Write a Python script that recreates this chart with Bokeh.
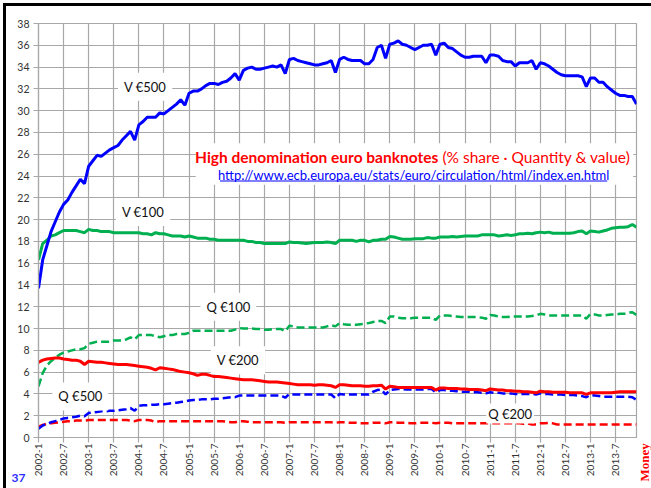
from math import pi
from bokeh.plotting import figure
from bokeh.models import Range1d, FixedTicker, Label, BoxAnnotation
from bokeh.embed import file_html
from bokeh.resources import INLINE

# ---- data (share in %, monthly 2002-1 .. 2013-12) ----
tick_labels = ["2002-1", "2002-7", "2003-1", "2003-7", "2004-1", "2004-7",
               "2005-1", "2005-7", "2006-1", "2006-7", "2007-1", "2007-7",
               "2008-1", "2008-7", "2009-1", "2009-7", "2010-1", "2010-7",
               "2011-1", "2011-7", "2012-1", "2012-7", "2013-1", "2013-7"]

v500 = [13.7, 16.3, 17.6, 18.9, 19.8, 20.7, 21.4, 21.8, 22.5, 23.1, 23.7, 23.3,
        24.9, 25.4, 25.9, 25.8, 26.1, 26.4, 26.6, 26.8, 27.3, 27.7, 28.1, 27.3,
        28.7, 29.0, 29.4, 29.4, 29.4, 29.8, 29.7, 30.0, 30.3, 30.6, 31.0, 30.5,
        31.6, 31.8, 31.8, 32.0, 32.3, 32.5, 32.5, 32.4, 32.6, 32.7, 33.0, 33.4,
        32.8, 33.7, 33.9, 34.0, 33.8, 33.8, 33.9, 34.0, 34.1, 34.0, 34.2, 33.4,
        34.7, 34.8, 34.6, 34.5, 34.4, 34.3, 34.2, 34.2, 34.3, 34.4, 34.6, 33.5,
        34.7, 34.9, 34.7, 34.6, 34.6, 34.6, 34.3, 34.3, 34.7, 35.8, 36.0, 34.8,
        36.1, 36.2, 36.4, 36.1, 36.0, 35.8, 35.6, 35.8, 36.0, 36.0, 36.1, 35.1,
        36.1, 36.2, 35.8, 35.7, 35.4, 35.1, 34.9, 34.9, 35.0, 35.0, 35.0, 34.4,
        35.1, 35.1, 35.0, 34.6, 34.5, 34.5, 34.1, 34.4, 34.4, 34.4, 34.6, 33.8,
        34.4, 34.3, 34.1, 33.8, 33.5, 33.3, 33.2, 33.2, 33.2, 33.2, 33.1, 32.2,
        33.0, 33.0, 32.6, 32.6, 32.2, 31.9, 31.6, 31.4, 31.4, 31.3, 31.3, 30.6]

v100 = [16.3, 17.8, 18.1, 18.5, 18.6, 18.8, 19.0, 19.0, 19.0, 19.0, 18.9, 18.8,
        19.1, 19.0, 19.0, 18.9, 18.9, 18.9, 18.8, 18.8, 18.8, 18.8, 18.8, 18.8,
        18.8, 18.7, 18.7, 18.6, 18.8, 18.7, 18.7, 18.6, 18.5, 18.5, 18.5, 18.4,
        18.5, 18.4, 18.3, 18.3, 18.3, 18.2, 18.2, 18.1, 18.1, 18.1, 18.1, 18.1,
        18.1, 18.1, 18.0, 18.0, 17.9, 17.9, 17.8, 17.8, 17.8, 17.8, 17.8, 17.8,
        17.95, 17.9, 17.9, 17.85, 17.8, 17.85, 17.9, 17.9, 17.9, 17.95, 17.9, 17.8,
        18.1, 18.1, 18.1, 18.1, 18.0, 18.1, 18.1, 17.95, 18.1, 18.1, 18.2, 18.2,
        18.45, 18.4, 18.3, 18.2, 18.2, 18.2, 18.25, 18.25, 18.25, 18.35, 18.3, 18.3,
        18.4, 18.4, 18.4, 18.45, 18.4, 18.45, 18.5, 18.5, 18.5, 18.5, 18.6, 18.6,
        18.6, 18.6, 18.5, 18.55, 18.6, 18.55, 18.6, 18.7, 18.7, 18.75, 18.7, 18.8,
        18.85, 18.8, 18.85, 18.75, 18.75, 18.75, 18.75, 18.75, 18.8, 18.9, 18.95, 18.7,
        18.95, 18.9, 18.85, 18.95, 19.05, 19.2, 19.25, 19.3, 19.3, 19.35, 19.55, 19.3]

q100 = [4.7, 5.9, 6.6, 7.0, 7.3, 7.6, 7.8, 7.9, 8.0, 8.1, 8.1, 8.2,
        8.6, 8.7, 8.8, 8.8, 8.8, 8.8, 8.9, 8.9, 8.9, 9.0, 9.2, 9.0,
        9.4, 9.4, 9.4, 9.4, 9.3, 9.2, 9.3, 9.4, 9.4, 9.5, 9.5, 9.5,
        9.6, 9.8, 9.8, 9.8, 9.8, 9.8, 9.8, 9.8, 9.8, 9.8, 9.8, 9.9,
        10.05, 10.0, 10.0, 10.0, 9.95, 9.95, 9.9, 9.9, 9.95, 9.95, 9.95, 9.75,
        10.25, 10.2, 10.1, 10.1, 10.1, 10.1, 10.1, 10.1, 10.1, 10.2, 10.3, 10.2,
        10.5, 10.4, 10.35, 10.35, 10.35, 10.4, 10.45, 10.5, 10.6, 10.7, 10.7, 10.5,
        11.1, 11.1, 11.0, 10.95, 10.95, 10.95, 11.0, 11.0, 11.0, 11.0, 11.0, 10.8,
        11.2, 11.2, 11.2, 11.15, 11.1, 11.05, 11.05, 11.05, 11.05, 11.05, 11.0, 10.9,
        11.25, 11.2, 11.1, 11.05, 11.05, 11.1, 11.1, 11.1, 11.1, 11.1, 11.15, 11.2,
        11.35, 11.3, 11.2, 11.2, 11.2, 11.2, 11.2, 11.2, 11.2, 11.2, 11.2, 10.9,
        11.35, 11.3, 11.2, 11.2, 11.25, 11.3, 11.3, 11.35, 11.35, 11.45, 11.5, 11.25]

v200 = [6.9, 7.1, 7.2, 7.25, 7.3, 7.3, 7.2, 7.15, 7.1, 7.1, 7.0, 6.7,
        7.0, 6.95, 6.9, 6.9, 6.85, 6.8, 6.75, 6.7, 6.7, 6.7, 6.65, 6.6,
        6.55, 6.5, 6.45, 6.35, 6.2, 6.4, 6.35, 6.3, 6.25, 6.15, 6.05, 6.0,
        5.95, 5.85, 5.7, 5.8, 5.8, 5.7, 5.6, 5.6, 5.55, 5.5, 5.45, 5.4,
        5.35, 5.3, 5.3, 5.3, 5.25, 5.2, 5.15, 5.1, 5.1, 5.1, 5.05, 5.0,
        4.95, 4.9, 4.85, 4.85, 4.85, 4.85, 4.8, 4.85, 4.85, 4.8, 4.75, 4.6,
        4.85, 4.85, 4.8, 4.75, 4.75, 4.75, 4.7, 4.7, 4.75, 4.75, 4.8, 4.45,
        4.7, 4.65, 4.6, 4.6, 4.6, 4.6, 4.6, 4.6, 4.6, 4.6, 4.6, 4.35,
        4.55, 4.55, 4.5, 4.5, 4.5, 4.45, 4.45, 4.4, 4.4, 4.4, 4.35, 4.3,
        4.45, 4.4, 4.35, 4.35, 4.3, 4.3, 4.25, 4.25, 4.2, 4.2, 4.15, 4.1,
        4.25, 4.2, 4.2, 4.15, 4.15, 4.15, 4.15, 4.1, 4.1, 4.1, 4.1, 3.95,
        4.1, 4.1, 4.1, 4.1, 4.1, 4.1, 4.15, 4.2, 4.2, 4.2, 4.2, 4.2]

q500 = [0.8, 1.1, 1.25, 1.4, 1.5, 1.6, 1.75, 1.8, 1.85, 1.9, 2.0, 1.95,
        2.25, 2.3, 2.35, 2.4, 2.4, 2.45, 2.45, 2.5, 2.55, 2.6, 2.7, 2.45,
        2.9, 2.95, 2.95, 3.0, 3.0, 3.05, 3.05, 3.1, 3.15, 3.2, 3.25, 3.3,
        3.4, 3.45, 3.45, 3.5, 3.5, 3.5, 3.55, 3.55, 3.6, 3.65, 3.7, 3.7,
        3.85, 3.85, 3.85, 3.85, 3.85, 3.85, 3.85, 3.85, 3.85, 3.85, 3.85, 3.65,
        4.0, 3.95, 3.95, 3.95, 3.95, 3.95, 3.95, 3.95, 3.95, 3.95, 3.95, 3.6,
        4.0, 3.95, 3.95, 3.95, 3.95, 3.95, 3.95, 3.95, 4.2, 4.35, 4.4, 3.95,
        4.35, 4.4, 4.45, 4.45, 4.4, 4.4, 4.4, 4.4, 4.4, 4.45, 4.45, 4.15,
        4.35, 4.35, 4.3, 4.3, 4.25, 4.2, 4.2, 4.2, 4.15, 4.15, 4.1, 4.05,
        4.15, 4.1, 4.1, 4.05, 4.05, 4.05, 4.0, 4.0, 4.0, 4.0, 4.0, 3.95,
        4.05, 4.0, 4.0, 3.95, 3.95, 3.95, 3.9, 3.9, 3.9, 3.85, 3.8, 3.7,
        3.9, 3.85, 3.8, 3.75, 3.75, 3.75, 3.75, 3.75, 3.75, 3.75, 3.7, 3.45]

q200 = [1.0, 1.15, 1.25, 1.3, 1.35, 1.4, 1.45, 1.5, 1.5, 1.55, 1.55, 1.55,
        1.6, 1.6, 1.6, 1.6, 1.6, 1.6, 1.6, 1.6, 1.6, 1.6, 1.55, 1.5,
        1.6, 1.6, 1.6, 1.55, 1.4, 1.5, 1.5, 1.5, 1.5, 1.5, 1.5, 1.5,
        1.5, 1.5, 1.5, 1.5, 1.5, 1.5, 1.5, 1.5, 1.5, 1.45, 1.4, 1.4,
        1.5, 1.5, 1.45, 1.4, 1.4, 1.4, 1.4, 1.4, 1.4, 1.4, 1.4, 1.35,
        1.4, 1.4, 1.4, 1.4, 1.4, 1.4, 1.4, 1.4, 1.4, 1.4, 1.4, 1.35,
        1.4, 1.4, 1.35, 1.35, 1.35, 1.3, 1.3, 1.3, 1.35, 1.35, 1.35, 1.3,
        1.4, 1.4, 1.35, 1.35, 1.35, 1.3, 1.3, 1.35, 1.35, 1.35, 1.35, 1.3,
        1.35, 1.35, 1.35, 1.3, 1.3, 1.3, 1.3, 1.3, 1.3, 1.3, 1.3, 1.3,
        1.3, 1.3, 1.3, 1.3, 1.3, 1.3, 1.3, 1.3, 1.25, 1.3, 1.2, 1.2,
        1.3, 1.3, 1.35, 1.3, 1.2, 1.2, 1.2, 1.2, 1.2, 1.2, 1.2, 1.2,
        1.2, 1.2, 1.2, 1.2, 1.2, 1.2, 1.2, 1.2, 1.2, 1.2, 1.2, 1.2]

months = list(range(len(v500)))
tick_pos = [6 * k for k in range(len(tick_labels))]
y_ticks = list(range(0, 39, 2))

BLUE = "#0000FF"
GREEN = "#00B050"
RED = "#FF0000"
FONT = "Lato"

p = figure(width=651, height=488, output_backend="svg", toolbar_location=None,
           x_range=Range1d(0, len(months) - 1), y_range=Range1d(0, 38),
           min_border_left=37, min_border_right=14, min_border_top=23,
           min_border_bottom=51)
p.styles = {"box-shadow": "inset 3px 3px 0 0 white, inset 6px 6px 0 0 black"}
p.background_fill_color = "white"
p.border_fill_alpha = 0
p.outline_line_color = "#a8a8a8"
p.outline_line_width = 1.2

GRID = "#a8a8a8"
p.xaxis.ticker = FixedTicker(ticks=tick_pos)
p.xaxis.major_label_overrides = {t: l for t, l in zip(tick_pos, tick_labels)}
p.xaxis.major_label_orientation = pi / 2
p.yaxis.ticker = FixedTicker(ticks=y_ticks)
p.xgrid.ticker = FixedTicker(ticks=tick_pos)
p.ygrid.ticker = FixedTicker(ticks=y_ticks)
for g in (p.xgrid, p.ygrid):
    g.grid_line_color = GRID
    g.grid_line_width = 1.2
for ax in (p.xaxis, p.yaxis):
    ax.axis_line_color = GRID
    ax.axis_line_width = 1.2
    ax.major_tick_line_color = GRID
    ax.major_tick_line_width = 1.2
    ax.major_tick_out = 5
    ax.major_tick_in = 0
    ax.minor_tick_line_color = None
    ax.major_label_text_font = FONT
    ax.major_label_text_color = "#333333"
p.xaxis.major_label_text_font_size = "10px"
p.yaxis.major_label_text_font_size = "10.5px"
p.xaxis.major_label_standoff = 1
p.yaxis.major_label_standoff = 4

p.line(months, q200, color=RED, line_width=2.5, line_dash="8 4")
p.line(months, q500, color=BLUE, line_width=2.5, line_dash="8 4")
p.line(months, q100, color=GREEN, line_width=2.5, line_dash="8 4")
p.line(months, v200, color=RED, line_width=3)
p.line(months, v100, color=GREEN, line_width=3)
p.line(months, v500, color=BLUE, line_width=3)

# series labels
def series_label(x, y, text, pad=6):
    p.add_layout(Label(x=x, y=y, text=text, text_align="center",
                       text_baseline="middle", text_font=FONT,
                       text_font_size="13px", text_color="#111111",
                       background_fill_color="white", padding=pad))

series_label(25.5, 32.2, "V €500")
series_label(25.0, 20.7, "V €100")
series_label(45.4, 12.0, "Q €100")
series_label(47.7, 7.1, "V €200")
series_label(10.0, 3.77, "Q €500")
series_label(112.8, 2.2, "Q €200", pad=2)

# title block
p.add_layout(BoxAnnotation(left=37.6, right=142.2, bottom=23.2, top=27.0,
                           fill_color="white", fill_alpha=1, line_color=None))
p.add_layout(Label(x=95.6, y=25.73, text="High denomination euro banknotes",
                   text_align="right", text_baseline="middle", text_font=FONT,
                   text_font_style="bold", text_font_size="15.5px", text_color=RED))
p.add_layout(Label(x=96.6, y=25.73, text="(% share · Quantity & value)",
                   text_align="left", text_baseline="middle", text_font=FONT,
                   text_font_size="15.5px", text_color=RED))
p.add_layout(Label(x=89.7, y=24.12,
                   text="http://www.ecb.europa.eu/stats/euro/circulation/html/index.en.html",
                   text_align="center", text_baseline="middle", text_font=FONT,
                   text_font_size="13px", text_color=BLUE))
p.add_layout(BoxAnnotation(left=43.4, right=136.0, bottom=23.5, top=23.59,
                           fill_color=BLUE, fill_alpha=1, line_color=None))

# corner texts (canvas pixel units), placed in side panels so they are not
# clipped to the plot frame
p.add_layout(Label(x=18, y=477, x_units="canvas", y_units="canvas", text="37",
                   text_align="center", text_baseline="middle", text_font=FONT,
                   text_font_style="bold", text_font_size="12px",
                   text_color="#2E2EFF"), "left")
p.add_layout(Label(x=644, y=481, x_units="canvas", y_units="canvas",
                   text="Money", angle=pi / 2, text_align="left",
                   text_baseline="middle", text_font="Liberation Serif",
                   text_font_style="bold", text_font_size="13px", text_color=RED),
             "right")

open("out.html", "w").write(file_html(p, INLINE))
